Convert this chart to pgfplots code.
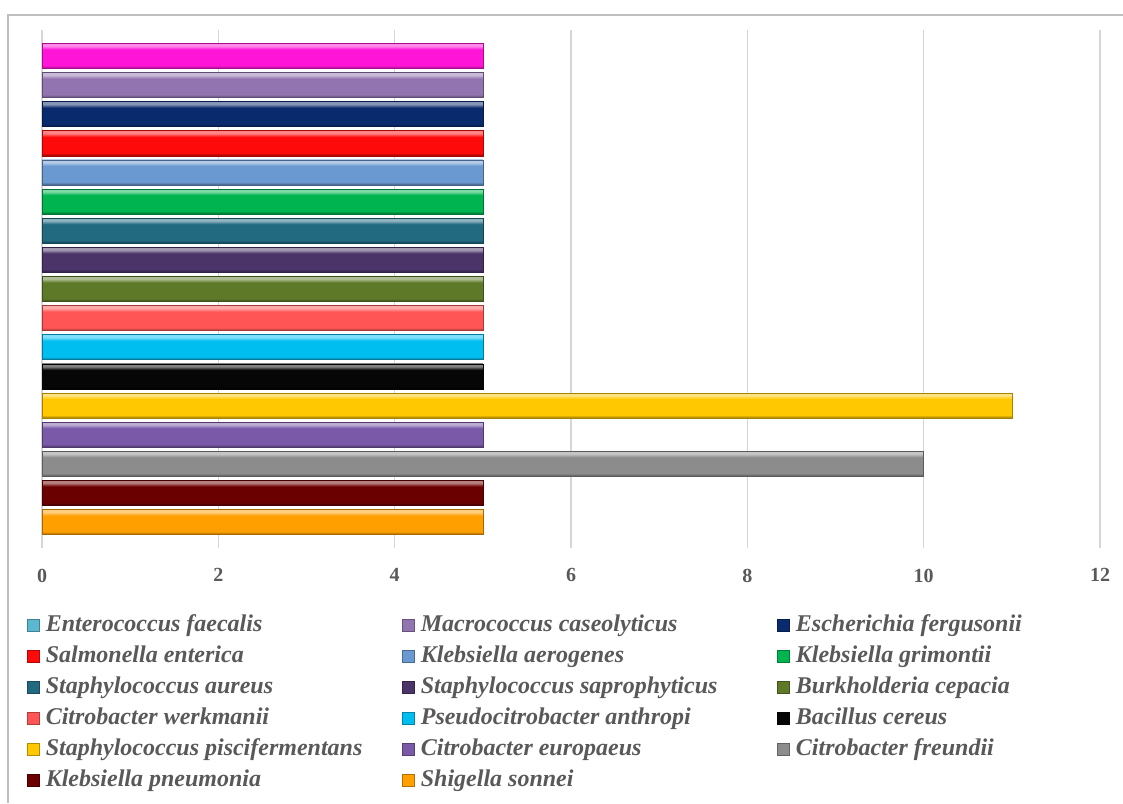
\documentclass[border=0pt]{standalone}
\usepackage{pgfplots}
\pgfplotsset{compat=1.18}
\usepackage{fontspec}
\setmainfont{Liberation Serif}
\definecolor{tickgray}{HTML}{595959}
\definecolor{cEnt}{HTML}{FF14D8}
\definecolor{cEntLeg}{HTML}{5BB8D0}
\definecolor{cMac}{HTML}{9275B0}
\definecolor{cEsc}{HTML}{0A2A6E}
\definecolor{cSal}{HTML}{FF0A0A}
\definecolor{cKae}{HTML}{6A98D0}
\definecolor{cKgr}{HTML}{00B450}
\definecolor{cSau}{HTML}{216A80}
\definecolor{cSsa}{HTML}{4A3468}
\definecolor{cBur}{HTML}{5E7A28}
\definecolor{cCwe}{HTML}{FF5555}
\definecolor{cPse}{HTML}{00BEF0}
\definecolor{cBac}{HTML}{060606}
\definecolor{cSpi}{HTML}{FFC800}
\definecolor{cCeu}{HTML}{7A5AA8}
\definecolor{cCfr}{HTML}{8C8C8C}
\definecolor{cKpn}{HTML}{6B0000}
\definecolor{cShi}{HTML}{FFA000}
\colorlet{bevtop}{white}\colorlet{bevmid}{gray}\colorlet{bevbot}{black}
\pgfdeclareverticalshading[bevtop,bevmid,bevbot]{bevel}{100bp}{color(0bp)=(bevbot); color(25bp)=(bevbot); color(31bp)=(bevmid); color(63bp)=(bevmid); color(70bp)=(bevtop); color(100bp)=(bevtop)}
\pgfplotsset{
  bev/.style={xbar, bar shift=0pt, bar width=0.86,
    /utils/exec={\colorlet{bevmid}{#1}\colorlet{bevtop}{#1!50!white}\colorlet{bevbot}{#1!60!black}},
    shading=bevel, draw=#1!65!black, line width=0.5pt},
  legsq/.style={legend image code/.code={\filldraw[fill=#1,draw=#1!70!black,line width=0.4pt] (0pt,-4.5pt) rectangle (9pt,4.5pt);}},
}
\newcommand{\lent}[1]{\addlegendentry{\makebox[267.4pt][l]{#1}}}
\begin{document}
\begin{tikzpicture}
\useasboundingbox (0,0) rectangle (842.25pt,-602.25pt);
\draw[draw=black!25, line width=1.1pt] (6pt,-602.25pt) -- (6pt,-11.25pt) -- (842.25pt,-11.25pt);
\begin{axis}[
  at={(31.5pt,-411pt)}, anchor=south west,
  scale only axis, width=793.5pt, height=388.5pt,
  xmin=0, xmax=12, ymin=-0.89, ymax=16.89,
  xtick={0,2,...,12}, ytick=\empty,
  xmajorgrids, major grid style={draw=black!16, line width=0.9pt},
  axis line style={draw=none}, tick style={draw=none},
  /pgf/number format/assume math mode=true,
  xticklabel style={font=\bfseries\fontsize{15}{15}\selectfont, text=tickgray, yshift=-12pt},
  legend columns=3,
  legend style={draw=none, fill=none, at={(-0.0142,-0.118)}, anchor=north west,
    font=\bfseries\itshape\fontsize{18}{18}\selectfont, text=tickgray,
    row sep=0pt, column sep=0pt, inner sep=0pt,
    nodes={inner sep=0pt, text height=16.5pt, text depth=6.75pt},
    /tikz/every odd column/.append style={column sep=4.5pt}},
  legend cell align=left,
]
% bars, bottom (0) to top (16)
\addplot[bev=cShi, forget plot] coordinates {(5,0)};
\addplot[bev=cKpn, forget plot] coordinates {(5,1)};
\addplot[bev=cCfr, forget plot] coordinates {(10,2)};
\addplot[bev=cCeu, forget plot] coordinates {(5,3)};
\addplot[bev=cSpi, forget plot] coordinates {(11,4)};
\addplot[bev=cBac, forget plot] coordinates {(5,5)};
\addplot[bev=cPse, forget plot] coordinates {(5,6)};
\addplot[bev=cCwe, forget plot] coordinates {(5,7)};
\addplot[bev=cBur, forget plot] coordinates {(5,8)};
\addplot[bev=cSsa, forget plot] coordinates {(5,9)};
\addplot[bev=cSau, forget plot] coordinates {(5,10)};
\addplot[bev=cKgr, forget plot] coordinates {(5,11)};
\addplot[bev=cKae, forget plot] coordinates {(5,12)};
\addplot[bev=cSal, forget plot] coordinates {(5,13)};
\addplot[bev=cEsc, forget plot] coordinates {(5,14)};
\addplot[bev=cMac, forget plot] coordinates {(5,15)};
\addplot[bev=cEnt, forget plot] coordinates {(5,16)};
% legend
\addlegendimage{legsq=cEntLeg}\lent{Enterococcus faecalis}
\addlegendimage{legsq=cMac}\lent{Macrococcus caseolyticus}
\addlegendimage{legsq=cEsc}\lent{Escherichia fergusonii}
\addlegendimage{legsq=cSal}\lent{Salmonella enterica}
\addlegendimage{legsq=cKae}\lent{Klebsiella aerogenes}
\addlegendimage{legsq=cKgr}\lent{Klebsiella grimontii}
\addlegendimage{legsq=cSau}\lent{Staphylococcus aureus}
\addlegendimage{legsq=cSsa}\lent{Staphylococcus saprophyticus}
\addlegendimage{legsq=cBur}\lent{Burkholderia cepacia}
\addlegendimage{legsq=cCwe}\lent{Citrobacter werkmanii}
\addlegendimage{legsq=cPse}\lent{Pseudocitrobacter anthropi}
\addlegendimage{legsq=cBac}\lent{Bacillus cereus}
\addlegendimage{legsq=cSpi}\lent{Staphylococcus piscifermentans}
\addlegendimage{legsq=cCeu}\lent{Citrobacter europaeus}
\addlegendimage{legsq=cCfr}\lent{Citrobacter freundii}
\addlegendimage{legsq=cKpn}\lent{Klebsiella pneumonia}
\addlegendimage{legsq=cShi}\lent{Shigella sonnei}
\end{axis}
\end{tikzpicture}
\end{document}
